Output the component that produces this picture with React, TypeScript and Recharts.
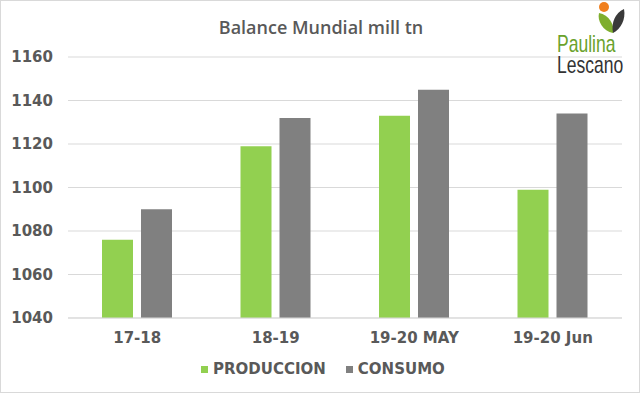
import { BarChart, Bar, XAxis, YAxis, CartesianGrid } from "recharts"

const categories = ["17-18", "18-19", "19-20 MAY", "19-20 Jun"]
const produccion = [1076, 1119, 1133, 1099]
const consumo = [1090, 1132, 1145, 1134]
const yTicks = [1040, 1060, 1080, 1100, 1120, 1140, 1160]

const data = categories.map((name, i) => ({
  name,
  produccion: produccion[i],
  consumo: consumo[i],
}))

const GREEN = "#92d050"
const GREY = "#808080"
const TEXT = "#595959"
const FONT = "'DejaVu Sans', Verdana, sans-serif"

// logo in the top right corner
function Logo() {
  return (
    <svg width={90} height={80} style={{ position: "absolute", left: 549, top: 0 }}>
      <circle cx={54} cy={6} r={5} fill="#f07f1e" />
      <path d="M49 12 C47 20 53 30 63 32 C65 24 59 14 49 12 Z" fill="#7fae2e" />
      <path d="M63 32 C61 22 65 12 74 8 C76 18 71 28 63 32 Z" fill="#3a3a3a" />
      <g transform="translate(7,0) scale(0.73,1)">
        <text fontFamily="'Liberation Sans', sans-serif" fontSize={24}>
          <tspan x={0} y={51} fill="#6aa22c">
            Paulina
          </tspan>
          <tspan x={0} y={72} fill="#333333">
            Lescano
          </tspan>
        </text>
      </g>
    </svg>
  )
}

function LegendItem({ color, label }: { color: string; label: string }) {
  return (
    <div style={{ display: "flex", alignItems: "center", marginRight: 20 }}>
      <span style={{ width: 7, height: 7, background: color, display: "inline-block", marginRight: 5 }} />
      <span>{label}</span>
    </div>
  )
}

export default function App() {
  return (
    <div
      style={{
        position: "fixed",
        left: 0,
        top: 0,
        width: 640,
        height: 393,
        background: "#fff",
        boxSizing: "border-box",
        border: "1px solid #d9d9d9",
        overflow: "hidden",
      }}
    >
      <div style={{ position: "absolute", left: -1, top: -1 }}>
        <BarChart
          width={640}
          height={393}
          data={data}
          margin={{ top: 57, right: 18, bottom: 45, left: 0 }}
          barSize={31}
          barGap={8}
        >
          <CartesianGrid vertical={false} stroke="#d9d9d9" />
          <XAxis
            dataKey="name"
            axisLine={{ stroke: "#d9d9d9" }}
            tickLine={false}
            tickMargin={8}
            height={30}
            tick={{ fill: TEXT, fontSize: 15, fontWeight: "bold", fontFamily: FONT }}
          />
          <YAxis
            domain={[1040, 1160]}
            ticks={yTicks}
            width={68}
            axisLine={false}
            tickLine={false}
            tickMargin={9}
            tick={{ fill: TEXT, fontSize: 15, fontWeight: "bold", fontFamily: FONT }}
          />
          <Bar dataKey="produccion" fill={GREEN} isAnimationActive={false} />
          <Bar dataKey="consumo" fill={GREY} isAnimationActive={false} />
        </BarChart>
      </div>
      <div
        style={{
          position: "absolute",
          left: 0,
          width: 640,
          top: 14,
          textAlign: "center",
          fontFamily: "'Open Sans', sans-serif",
          fontWeight: 600,
          fontSize: 18,
          color: TEXT,
        }}
      >
        Balance Mundial mill tn
      </div>
      <div
        style={{
          position: "absolute",
          left: 200,
          top: 358,
          display: "flex",
          fontFamily: FONT,
          fontWeight: "bold",
          fontSize: 15,
          color: TEXT,
          lineHeight: "20px",
        }}
      >
        <LegendItem color={GREEN} label="PRODUCCION" />
        <LegendItem color={GREY} label="CONSUMO" />
      </div>
      <Logo />
    </div>
  )
}
